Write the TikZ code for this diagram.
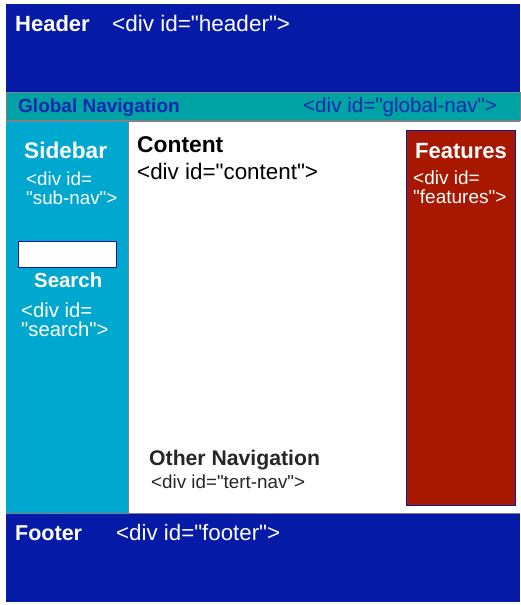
\documentclass[tikz,border=0pt]{standalone}
\usepackage{fontspec}
\newfontfamily\pagefont{Liberation Sans}
\definecolor{pageblue}{RGB}{6,26,168}
\definecolor{navteal}{RGB}{0,163,163}
\definecolor{sidecyan}{RGB}{0,168,208}
\definecolor{featred}{RGB}{168,24,0}
\definecolor{navtext}{RGB}{16,40,176}
\definecolor{edgegray}{RGB}{128,128,136}

\tikzset{
  boxtitle/.style={anchor=base west, inner sep=0pt, font=\pagefont\fontsize{#1}{#1}\selectfont\bfseries},
  boxtitle/.default=21,
  divtag/.style={anchor=base west, inner sep=0pt, align=left, font=\pagefont\fontsize{#1}{19}\selectfont},
  divtag/.default=20
}

\begin{document}
\begin{tikzpicture}[x=1pt, y=-1pt]
    % Page frame
    \useasboundingbox (0,0) rectangle (520,605);
    
    % Header and global navigation bars
    \fill[pageblue] (6,4) rectangle (520,92);
    \filldraw[fill=navteal, draw=edgegray, line width=1pt] (6,92) rectangle (520,120);
    
    % Sidebar and content
    \fill[sidecyan] (6,121) rectangle (128,513);
    \draw[edgegray, line width=0.8pt] (128,121) -- (128,513);
    \draw[edgegray, line width=0.8pt] (6,121) -- (520,121);
    
    % Features column
    \filldraw[fill=featred, draw=pageblue, line width=1pt] (406,130) rectangle (515,505);
    
    % Search field
    \filldraw[fill=white, draw=pageblue, line width=1pt] (18,241) rectangle (116,267);
    
    % Footer
    \fill[pageblue] (6,513) rectangle (520,602);
    \draw[edgegray, line width=0.8pt] (6,513) -- (520,513);
    
    % Labels (two-line tags sit on the baseline of their last line)
    \node[boxtitle=22, white] (header) at (15,31) {Header};
    \node[divtag=22.5, white] (header-tag) at (112,31) {<div id="header">};
    
    \node[boxtitle=19, navtext] (globalnav) at (18,112) {Global Navigation};
    \node[divtag=20.6, navtext] (globalnav-tag) at (303,112) {<div id="global-nav">};
    
    \node[boxtitle=22.6, white] (sidebar) at (24,158) {Sidebar};
    \node[divtag=18.8, white] (sidebar-tag) at (26,204) {<div id=\\"sub-nav">};
    
    \node[boxtitle=20.4, white] (search) at (34,287) {Search};
    \node[divtag=20.3, white] (search-tag) at (21,336) {<div id=\\"search">};
    
    \node[boxtitle=22.8] (content) at (137,152) {Content};
    \node[divtag=22.4] (content-tag) at (137,179) {<div id="content">};
    
    \node[boxtitle=22, white] (features) at (415,158) {Features};
    \node[divtag=19, white] (features-tag) at (413,203) {<div id=\\"features">};
    
    \node[boxtitle=21.2, black!85] (othernav) at (149,465) {Other Navigation};
    \node[divtag=18.8, black!85] (othernav-tag) at (151,488) {<div id="tert-nav">};
    
    \node[boxtitle=21.5, white] (footer) at (15,540) {Footer};
    \node[divtag=22.3, white] (footer-tag) at (116,540) {<div id="footer">};
    
\end{tikzpicture}
\end{document}
